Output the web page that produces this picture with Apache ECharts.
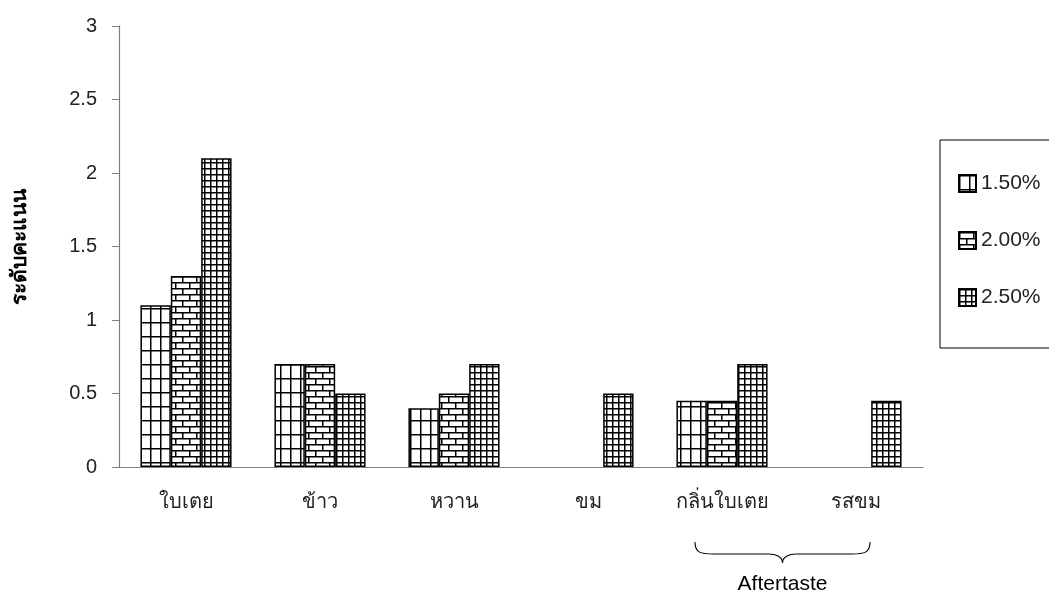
<!DOCTYPE html>
<html>
<head>
<meta charset="utf-8">
<script src="https://cdn.jsdelivr.net/npm/echarts@6/dist/echarts.min.js"></script>
<style>
  html, body { margin: 0; padding: 0; background: #fff; }
  #chart { width: 1049px; height: 594px; }
</style>
</head>
<body>
<div id="chart"></div>
<script>
// categories and values
const categories = ['ใบเตย', 'ข้าว', 'หวาน', 'ขม', 'กลิ่นใบเตย', 'รสขม']
const seriesNames = ['1.50%', '2.00%', '2.50%']
const values150 = [1.1, 0.7, 0.4, null, 0.45, null]
const values200 = [1.3, 0.7, 0.5, null, 0.45, null]
const values250 = [2.1, 0.5, 0.7, 0.5, 0.7, 0.45]
const yTicks = { min: 0, max: 3, interval: 0.5 }
const yName = 'ระดับคะแนน'
const groupLabel = 'Aftertaste'

const FONT = '"Liberation Sans", Arial, "Noto Sans", sans-serif'

// hatch tiles for the three fills
function makeTile (w, h, draw) {
  const c = document.createElement('canvas')
  c.width = w
  c.height = h
  const ctx = c.getContext('2d')
  ctx.fillStyle = '#fff'
  ctx.fillRect(0, 0, w, h)
  ctx.strokeStyle = '#000'
  ctx.lineWidth = 1.5
  draw(ctx)
  return { image: c, repeat: 'repeat' }
}

const gridFill = makeTile(10, 14, ctx => {
  ctx.beginPath()
  ctx.moveTo(0.75, 0); ctx.lineTo(0.75, 14)
  ctx.moveTo(0, 0.75); ctx.lineTo(10, 0.75)
  ctx.stroke()
})

const brickFill = makeTile(14, 12, ctx => {
  ctx.beginPath()
  ctx.moveTo(0, 0.75); ctx.lineTo(14, 0.75)
  ctx.moveTo(0, 6.75); ctx.lineTo(14, 6.75)
  ctx.moveTo(0.75, 0); ctx.lineTo(0.75, 6.75)
  ctx.moveTo(7.75, 6.75); ctx.lineTo(7.75, 12)
  ctx.stroke()
})

const smallGridFill = makeTile(6, 6, ctx => {
  ctx.beginPath()
  ctx.moveTo(0.75, 0); ctx.lineTo(0.75, 6)
  ctx.moveTo(0, 0.75); ctx.lineTo(6, 0.75)
  ctx.stroke()
})

const fills = [gridFill, brickFill, smallGridFill]
const allValues = [values150, values200, values250]

const chart = echarts.init(document.getElementById('chart'))

const option = {
  animation: false,
  textStyle: { fontFamily: FONT },
  grid: {
    left: 119,
    right: 126,
    top: 26,
    bottom: 127,
    outerBoundsMode: 'none'
  },
  legend: {
    orient: 'vertical',
    left: 940,
    top: 140,
    padding: [33, 30, 40, 18],
    icon: 'rect',
    itemWidth: 17,
    itemHeight: 17,
    itemGap: 36,
    borderColor: '#000',
    borderWidth: 1,
    textStyle: { fontSize: 21, color: '#222', fontFamily: FONT },
    data: seriesNames
  },
  xAxis: {
    type: 'category',
    data: categories,
    axisLine: { lineStyle: { color: '#808080', width: 1.2 } },
    axisTick: { length: 10, lineStyle: { color: '#808080' } },
    axisLabel: { margin: 25, fontSize: 20, color: '#222' }
  },
  yAxis: {
    type: 'value',
    min: yTicks.min,
    max: yTicks.max,
    interval: yTicks.interval,
    name: yName,
    nameLocation: 'middle',
    nameGap: 88,
    nameTextStyle: { fontSize: 21, fontWeight: 'bold', color: '#000' },
    axisLine: { show: true, lineStyle: { color: '#808080', width: 1.2 } },
    axisTick: { show: true, length: 7, lineStyle: { color: '#808080' } },
    splitLine: { show: false },
    axisLabel: { margin: 22, fontSize: 20, color: '#222' }
  },
  series: seriesNames.map((name, i) => ({
    name,
    type: 'bar',
    data: allValues[i],
    barGap: '0%',
    barCategoryGap: '32%',
    itemStyle: {
      color: fills[i],
      borderColor: '#000',
      borderWidth: 1.5
    }
  }))
}

chart.setOption(option)

// brace under the last two categories, placed from the axis scale
const c4 = chart.convertToPixel({ xAxisIndex: 0 }, categories[4])
const c5 = chart.convertToPixel({ xAxisIndex: 0 }, categories[5])
const y0 = chart.convertToPixel({ yAxisIndex: 0 }, 0)
const L = c4 - 27
const R = c5 + 14
const M = (L + R) / 2
const braceTop = y0 + 75
const braceMid = braceTop + 12
const braceTip = braceTop + 21
const braceStyle = { stroke: '#000', lineWidth: 1.1, fill: null }

chart.setOption({
  graphic: [
    {
      type: 'bezierCurve',
      shape: { x1: L, y1: braceTop, cpx1: L, cpy1: braceMid - 1, cpx2: L + 6, cpy2: braceMid, x2: L + 18, y2: braceMid },
      style: braceStyle
    },
    {
      type: 'line',
      shape: { x1: L + 18, y1: braceMid, x2: M - 14, y2: braceMid },
      style: braceStyle
    },
    {
      type: 'bezierCurve',
      shape: { x1: M - 14, y1: braceMid, cpx1: M - 6, cpy1: braceMid, cpx2: M, cpy2: braceMid + 3, x2: M, y2: braceTip },
      style: braceStyle
    },
    {
      type: 'bezierCurve',
      shape: { x1: M, y1: braceTip, cpx1: M, cpy1: braceMid + 3, cpx2: M + 6, cpy2: braceMid, x2: M + 14, y2: braceMid },
      style: braceStyle
    },
    {
      type: 'line',
      shape: { x1: M + 14, y1: braceMid, x2: R - 18, y2: braceMid },
      style: braceStyle
    },
    {
      type: 'bezierCurve',
      shape: { x1: R - 18, y1: braceMid, cpx1: R - 6, cpy1: braceMid, cpx2: R, cpy2: braceMid - 1, x2: R, y2: braceTop },
      style: braceStyle
    },
    {
      type: 'text',
      x: M,
      y: braceTop + 42,
      style: {
        text: groupLabel,
        fontSize: 21,
        fontFamily: FONT,
        fill: '#000',
        align: 'center',
        verticalAlign: 'middle'
      }
    }
  ]
})
</script>
</body>
</html>
